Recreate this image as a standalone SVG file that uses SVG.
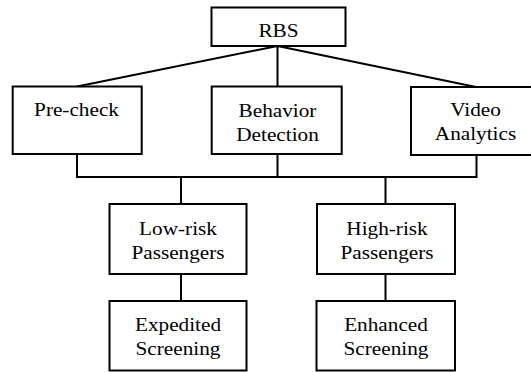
<svg xmlns="http://www.w3.org/2000/svg" width="531" height="372" viewBox="0 0 531 372">
<style>
.box{fill:#fff;stroke:#000;stroke-width:2}
.ln{fill:none;stroke:#000;stroke-width:2}
.t{font-family:'Liberation Serif','Times New Roman',Times,serif;font-size:19.5px;fill:#000;text-anchor:middle}
</style>
<rect width="531" height="372" fill="#fff"/>
<g id="connectors">
<path class="ln" d="M277.5 46 L77 86.5 M277.5 46 L277.5 86.5 M277.5 46 L476 87"/>
<path class="ln" d="M77 154 V177 H476.5 V155 M277.5 154 V177"/>
<path class="ln" d="M181 177 V204 M181 274 V301 M385.5 177 V204 M385.5 274 V301"/>
</g>
<g id="rbs"><rect class="box" x="211.5" y="7.5" width="134" height="38.5"/><text class="t" transform="translate(278.5 0) scale(1.09 1)" x="0" y="37.3">RBS</text></g>
<g id="precheck"><rect class="box" x="12.7" y="86.5" width="129" height="67.5"/><text class="t" transform="translate(76.5 0) scale(1.09 1)" x="0" y="116">Pre-check</text></g>
<g id="behavior"><rect class="box" x="211.7" y="86.5" width="130" height="67.5"/><text class="t" transform="translate(277.5 0) scale(1.09 1)"><tspan x="0" y="117">Behavior</tspan><tspan x="0" y="141.5">Detection</tspan></text></g>
<g id="video"><rect class="box" x="411" y="87" width="131" height="68"/><text class="t" transform="translate(475.5 0) scale(1.09 1)"><tspan x="0" y="116">Video</tspan><tspan x="0" y="140.5">Analytics</tspan></text></g>
<g id="lowrisk"><rect class="box" x="109.5" y="204" width="137" height="70"/><text class="t" transform="translate(178 0) scale(1.09 1)"><tspan x="0" y="235">Low-risk</tspan><tspan x="0" y="259">Passengers</tspan></text></g>
<g id="highrisk"><rect class="box" x="317" y="204" width="138" height="70"/><text class="t" transform="translate(387 0) scale(1.09 1)"><tspan x="0" y="235">High-risk</tspan><tspan x="0" y="259">Passengers</tspan></text></g>
<g id="expedited"><rect class="box" x="109.5" y="301" width="137" height="69.5"/><text class="t" transform="translate(178 0) scale(1.09 1)"><tspan x="0" y="331.5">Expedited</tspan><tspan x="0" y="355.5">Screening</tspan></text></g>
<g id="enhanced"><rect class="box" x="316.5" y="301" width="138.5" height="69.5"/><text class="t" transform="translate(386 0) scale(1.09 1)"><tspan x="0" y="331.5">Enhanced</tspan><tspan x="0" y="355.5">Screening</tspan></text></g>
</svg>
